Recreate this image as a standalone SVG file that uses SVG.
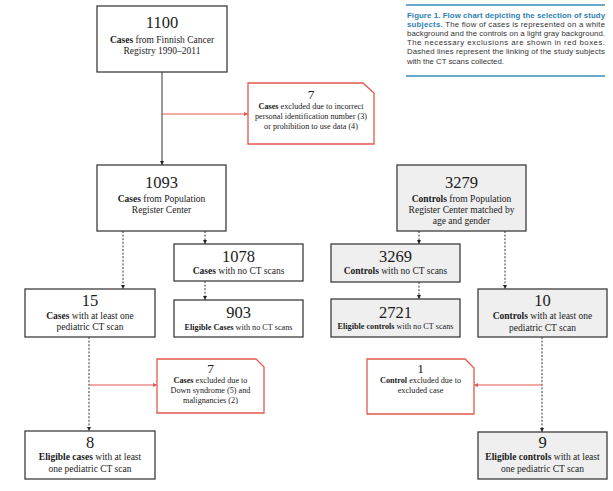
<svg xmlns="http://www.w3.org/2000/svg" width="613" height="491" viewBox="0 0 613 491">
  <style>
    .box { fill: #ffffff; stroke: #3c3c3c; stroke-width: 1.3; }
    .ctrl { fill: #efefef; stroke: #3c3c3c; stroke-width: 1.3; }
    .excl { fill: #ffffff; stroke: #e2574f; stroke-width: 1.3; }
    .num { font-family: "Liberation Serif", "Times New Roman", serif; font-size: 16.5px; fill: #1a1a1a; text-anchor: middle; }
    .numS { font-family: "Liberation Serif", "Times New Roman", serif; font-size: 13.5px; fill: #1a1a1a; text-anchor: middle; }
    .lbl { font-family: "Liberation Serif", "Times New Roman", serif; font-size: 9.5px; fill: #1a1a1a; text-anchor: middle; }
    .lblS { font-family: "Liberation Serif", "Times New Roman", serif; font-size: 8.2px; fill: #1a1a1a; text-anchor: middle; }
    .b { font-weight: bold; }
    .solid { stroke: #333333; stroke-width: 1; fill: none; }
    .dash { stroke: #333333; stroke-width: 1; stroke-dasharray: 2 1.6; fill: none; }
    .red { stroke: #e2574f; stroke-width: 1; fill: none; }
    .cap { font-family: "Liberation Sans", Arial, sans-serif; font-size: 7.8px; fill: #333333; }
    .capb { font-weight: bold; fill: #2d7fb3; }
    .rule { stroke: #3a8cb8; stroke-width: 1.6; }
  </style>
  <defs>
    <marker id="ah" markerUnits="userSpaceOnUse" markerWidth="5" markerHeight="5" refX="4" refY="2" orient="auto">
      <path d="M0,0 L4,2 L0,4 Z" fill="#222222"/>
    </marker>
    <marker id="ahr" markerUnits="userSpaceOnUse" markerWidth="5" markerHeight="5" refX="4" refY="2" orient="auto">
      <path d="M0,0 L4,2 L0,4 Z" fill="#e2574f"/>
    </marker>
  </defs>

  <rect width="613" height="491" fill="#ffffff"/>

  <!-- caption -->
  <g id="caption">
    <line class="rule" x1="406" y1="5" x2="605" y2="5"/>
    <text class="cap" x="407" y="17.5" textLength="198" lengthAdjust="spacing"><tspan class="capb">Figure 1. Flow chart depicting the selection of study</tspan></text>
    <text class="cap" x="407" y="26.7" textLength="198" lengthAdjust="spacing"><tspan class="capb">subjects.</tspan> The flow of cases is represented on a white</text>
    <text class="cap" x="407" y="35.9" textLength="198" lengthAdjust="spacing">background and the controls on a light gray background.</text>
    <text class="cap" x="407" y="45.1" textLength="198" lengthAdjust="spacing">The necessary exclusions are shown in red boxes.</text>
    <text class="cap" x="407" y="54.3" textLength="198" lengthAdjust="spacing">Dashed lines represent the linking of the study subjects</text>
    <text class="cap" x="407" y="63.5">with the CT scans collected.</text>
    <line class="rule" x1="406" y1="76" x2="605" y2="76"/>
  </g>

  <!-- connectors -->
  <g id="connectors">
    <line class="solid" x1="162" y1="72" x2="162" y2="165" marker-end="url(#ah)"/>
    <line class="red" x1="162" y1="114" x2="248" y2="114" marker-end="url(#ahr)"/>
    <line class="dash" x1="123" y1="231" x2="123" y2="289" marker-end="url(#ah)"/>
    <line class="dash" x1="205" y1="231" x2="205" y2="244" marker-end="url(#ah)"/>
    <line class="dash" x1="205" y1="281" x2="205" y2="300" marker-end="url(#ah)"/>
    <line class="dash" x1="89" y1="337" x2="89" y2="431" marker-end="url(#ah)"/>
    <line class="red" x1="89" y1="385" x2="157" y2="385" marker-end="url(#ahr)"/>
    <line class="dash" x1="419" y1="231" x2="419" y2="244" marker-end="url(#ah)"/>
    <line class="dash" x1="419" y1="282" x2="419" y2="299" marker-end="url(#ah)"/>
    <line class="dash" x1="505" y1="231" x2="505" y2="289" marker-end="url(#ah)"/>
    <line class="dash" x1="542" y1="337" x2="542" y2="432" marker-end="url(#ah)"/>
    <line class="red" x1="542" y1="385" x2="474" y2="385" marker-end="url(#ahr)"/>
  </g>

  <!-- case branch -->
  <g id="n1100">
    <rect class="box" x="97" y="6" width="130" height="66"/>
    <text class="num" x="162" y="28">1100</text>
    <text class="lbl" x="162" y="43"><tspan class="b">Cases</tspan> from Finnish Cancer</text>
    <text class="lbl" x="162" y="54">Registry 1990–2011</text>
  </g>

  <g id="ex7a">
    <path class="excl" d="M248,83 H363 L374,93 V144 H248 Z"/>
    <text class="numS" x="311" y="99">7</text>
    <text class="lblS" x="311" y="108.5"><tspan class="b">Cases</tspan> excluded due to incorrect</text>
    <text class="lblS" x="311" y="118.7">personal identification number (3)</text>
    <text class="lblS" x="311" y="129">or prohibition to use data (4)</text>
  </g>

  <g id="n1093">
    <rect class="box" x="97" y="165" width="129" height="66"/>
    <text class="num" x="161.5" y="188">1093</text>
    <text class="lbl" x="161.5" y="202"><tspan class="b">Cases</tspan> from Population</text>
    <text class="lbl" x="161.5" y="213">Register Center</text>
  </g>

  <g id="n1078">
    <rect class="box" x="174" y="244" width="129" height="37"/>
    <text class="num" x="238.5" y="262">1078</text>
    <text class="lbl" x="238.5" y="274"><tspan class="b">Cases</tspan> with no CT scans</text>
  </g>

  <g id="n903">
    <rect class="box" x="174" y="300" width="129" height="37"/>
    <text class="num" x="238.5" y="318">903</text>
    <text class="lblS" x="238.5" y="330"><tspan class="b">Eligible Cases</tspan> with no CT scans</text>
  </g>

  <g id="n15">
    <rect class="box" x="25" y="289" width="130" height="48"/>
    <text class="num" x="90" y="306">15</text>
    <text class="lbl" x="90" y="319"><tspan class="b">Cases</tspan> with at least one</text>
    <text class="lbl" x="90" y="330">pediatric CT scan</text>
  </g>

  <g id="ex7b">
    <path class="excl" d="M157,359 H256 L264,367 V413 H157 Z"/>
    <text class="numS" x="210.5" y="373">7</text>
    <text class="lblS" x="210.5" y="383"><tspan class="b">Cases</tspan> excluded due to</text>
    <text class="lblS" x="210.5" y="393">Down syndrome (5) and</text>
    <text class="lblS" x="210.5" y="403">malignancies (2)</text>
  </g>

  <g id="n8">
    <rect class="box" x="25" y="431" width="130" height="48"/>
    <text class="num" x="90" y="448">8</text>
    <text class="lbl" x="90" y="460"><tspan class="b">Eligible cases</tspan> with at least</text>
    <text class="lbl" x="90" y="472">one pediatric CT scan</text>
  </g>

  <!-- control branch -->
  <g id="n3279">
    <rect class="ctrl" x="397" y="165" width="129" height="66"/>
    <text class="num" x="461.5" y="188">3279</text>
    <text class="lbl" x="461.5" y="202"><tspan class="b">Controls</tspan> from Population</text>
    <text class="lbl" x="461.5" y="213">Register Center matched by</text>
    <text class="lbl" x="461.5" y="224">age and gender</text>
  </g>

  <g id="n3269">
    <rect class="ctrl" x="331" y="244" width="129" height="38"/>
    <text class="num" x="395.5" y="262">3269</text>
    <text class="lbl" x="395.5" y="274"><tspan class="b">Controls</tspan> with no CT scans</text>
  </g>

  <g id="n2721">
    <rect class="ctrl" x="331" y="299" width="129" height="38"/>
    <text class="num" x="395.5" y="318">2721</text>
    <text class="lblS" x="395.5" y="329"><tspan class="b">Eligible controls</tspan> with no CT scans</text>
  </g>

  <g id="n10">
    <rect class="ctrl" x="478" y="289" width="129" height="48"/>
    <text class="num" x="542.5" y="306">10</text>
    <text class="lbl" x="542.5" y="319"><tspan class="b">Controls</tspan> with at least one</text>
    <text class="lbl" x="542.5" y="331">pediatric CT scan</text>
  </g>

  <g id="ex1">
    <path class="excl" d="M367,359 H465 L474,368 V414 H367 Z"/>
    <text class="numS" x="420.5" y="373">1</text>
    <text class="lblS" x="420.5" y="383"><tspan class="b">Control</tspan> excluded due to</text>
    <text class="lblS" x="420.5" y="393">excluded case</text>
  </g>

  <g id="n9">
    <rect class="ctrl" x="478" y="432" width="129" height="47"/>
    <text class="num" x="542.5" y="448">9</text>
    <text class="lbl" x="542.5" y="460"><tspan class="b">Eligible controls</tspan> with at least</text>
    <text class="lbl" x="542.5" y="472">one pediatric CT scan</text>
  </g>
</svg>
